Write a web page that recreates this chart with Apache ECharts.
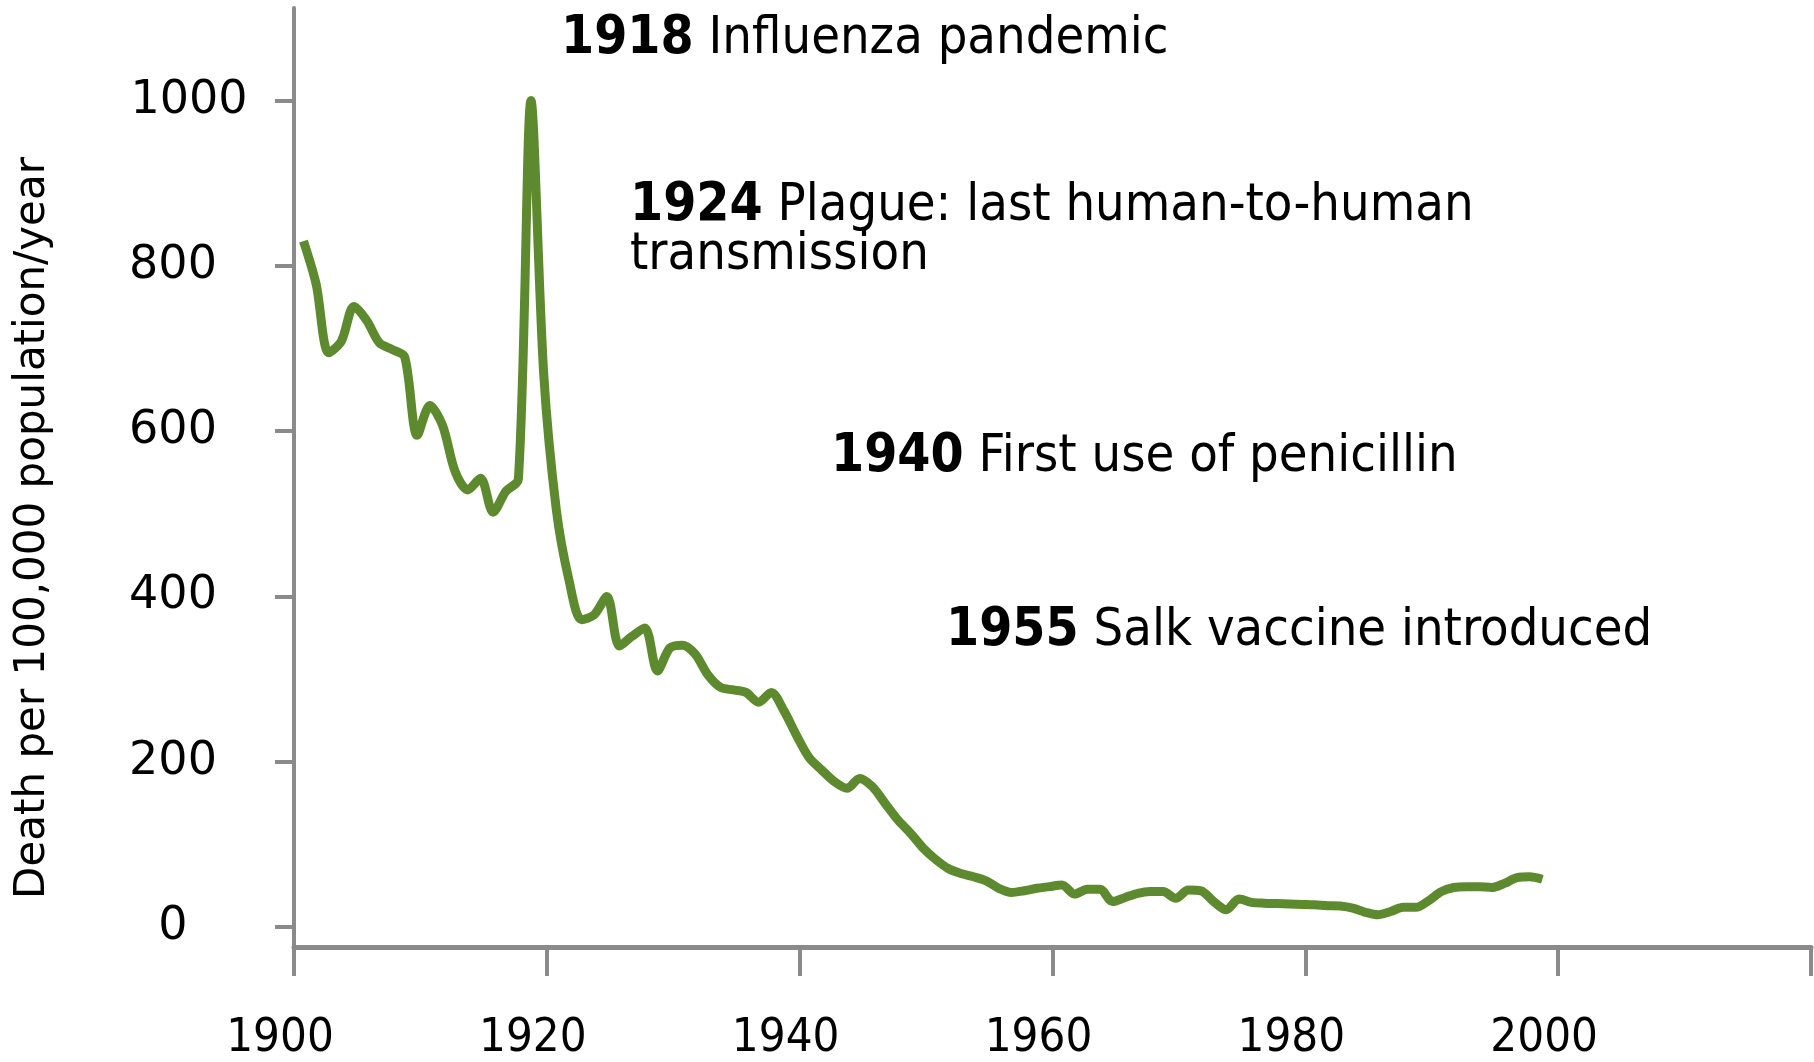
<!DOCTYPE html>
<html>
<head>
<meta charset="utf-8">
<title>Infectious disease mortality</title>
<script src="https://cdn.jsdelivr.net/npm/echarts@6/dist/echarts.min.js"></script>
<style>
  html, body { margin: 0; padding: 0; background: #fff; }
  #chart { width: 1814px; height: 1062px; }
</style>
</head>
<body>
<div id="chart"></div>
<script>
// deaths per 100,000 per year, one value a year from 1900
const firstYear = 1900
const deaths = [
  830, 778, 695, 709, 751, 734, 707, 699, 690, 595,   // 1900s
  631, 607, 551, 529, 543, 502, 527, 542, 1000, 670,  // 1910s
  505, 420, 372, 378, 400, 340, 352, 362, 310, 338,   // 1920s
  341, 330, 305, 290, 287, 284, 272, 284, 262, 232,   // 1930s
  205, 190, 176, 168, 180, 170, 150, 130, 114, 96,    // 1940s
  82, 71, 65, 61, 56, 47, 42, 44, 47, 49,             // 1950s
  51, 40, 46, 46, 31, 36, 41, 43, 43, 35,             // 1960s
  45, 44, 31, 21, 34, 30, 29, 28.5, 28, 27.5,         // 1970s
  27, 26, 25.5, 23, 18, 15, 19, 24, 24, 32,           // 1980s
  43, 48, 49, 49, 48, 53, 60, 61, 58                  // 1990s
]
const years = deaths.map((d, i) => firstYear + i)
const yTicks = [0, 200, 400, 600, 800, 1000]
const eventYears = ['1918', '1924', '1940', '1955']
const eventTexts = [
  'Influenza pandemic',
  'Plague: last human-to-human\ntransmission',
  'First use of penicillin',
  'Salk vaccine introduced'
]

// the original plots each year's point a bit right of its tick
const xShift = 0.75
const axisGrey = '#8a8a8a'
const lineGreen = '#5e8a2f'
const labelFont = 'DejaVu Sans Condensed, DejaVu Sans, sans-serif'

const chart = echarts.init(document.getElementById('chart'))

const eventPos = [[561, 39], [630, 231], [831, 457], [946, 631]]
const eventGraphics = eventYears.map((y, i) => ({
  type: 'text',
  x: eventPos[i][0],
  y: eventPos[i][1],
  style: {
    text: '{b|' + y + '} ' + eventTexts[i],
    fill: '#000',
    fontSize: 52,
    fontFamily: labelFont,
    lineHeight: 49,
    verticalAlign: 'middle',
    align: 'left',
    rich: {
      b: { fontWeight: 'bold', fontSize: 53, fontFamily: labelFont, fill: '#000', lineHeight: 49 }
    }
  }
}))

chart.setOption({
  animation: false,
  grid: { left: 294, right: 2, top: 8, bottom: 112 },
  xAxis: {
    type: 'value',
    min: 1900,
    max: 2020,
    interval: 20,
    splitLine: { show: false },
    axisLine: { onZero: false, lineStyle: { color: axisGrey, width: 5 } },
    axisTick: { length: 29, lineStyle: { color: axisGrey, width: 4 } },
    axisLabel: {
      margin: 68,
      padding: [0, 28, 0, 0],
      color: '#000',
      fontSize: 47,
      fontFamily: labelFont,
      formatter: v => (v > 2000 ? '' : String(v))
    }
  },
  yAxis: {
    type: 'value',
    min: -24,
    max: 1112,
    splitLine: { show: false },
    axisLine: { show: true, lineStyle: { color: axisGrey, width: 4 } },
    axisTick: { show: true, length: 19, customValues: yTicks, lineStyle: { color: axisGrey, width: 4 } },
    axisLabel: {
      customValues: yTicks,
      margin: 121,
      align: 'center',
      color: '#000',
      fontSize: 46,
      fontFamily: 'DejaVu Sans, sans-serif',
      formatter: v => (v >= 1000 ? '{k|' + v + '}' : String(v)),
      rich: {
        k: { padding: [0, 0, 0, 32], fontSize: 46, fontFamily: 'DejaVu Sans, sans-serif', color: '#000' }
      }
    }
  },
  series: [{
    type: 'line',
    data: years.map((y, i) => [y + xShift, deaths[i]]),
    smooth: 0.3,
    symbol: 'none',
    lineStyle: { color: lineGreen, width: 9, cap: 'butt', join: 'round' }
  }],
  graphic: [
    {
      type: 'text',
      x: 33,
      y: 528,
      rotation: Math.PI / 2,
      style: {
        text: 'Death per 100,000 population/year',
        fill: '#000',
        fontSize: 42,
        fontFamily: 'DejaVu Sans, sans-serif',
        align: 'center',
        verticalAlign: 'middle'
      }
    }
  ].concat(eventGraphics)
})
</script>
</body>
</html>
